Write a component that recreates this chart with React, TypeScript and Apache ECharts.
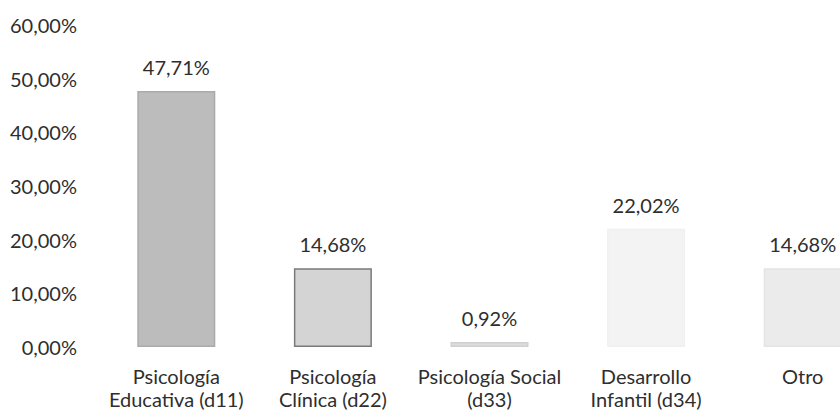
import React, { useEffect, useRef } from "react";
import * as echarts from "echarts";

const categories = [
  "Psicología\nEducativa (d11)",
  "Psicología\nClínica (d22)",
  "Psicología Social\n(d33)",
  "Desarrollo\nInfantil (d34)",
  "Otro",
];
const values = [47.71, 14.68, 0.92, 22.02, 14.68];
const barColors = ["#bcbcbc", "#d4d4d4", "#dcdcdc", "#f3f3f3", "#ebebeb"];
const barBorders = ["#aaaaaa", "#7a7a7a", "#d0d0d0", "#f0f0f0", "#e4e4e4"];

const fmt = (v: number) => v.toFixed(2).replace(".", ",") + "%";

export default function App() {
  const ref = useRef<HTMLDivElement>(null);
  useEffect(() => {
    document.body.style.margin = "0";
    document.body.style.overflow = "hidden";
    document.documentElement.style.overflow = "hidden";
    if (!ref.current) return;
    const chart = echarts.init(ref.current, null, { renderer: "svg" });
    chart.setOption({
      animation: false,
      backgroundColor: "#ffffff",
      grid: { left: 98, width: 783, top: 25, bottom: 68, containLabel: false },
      xAxis: {
        type: "category",
        data: categories,
        axisLine: { show: false },
        axisTick: { show: false },
        axisLabel: {
          interval: 0,
          color: "#2e2e2e",
          fontFamily: "Lato",
          fontSize: 20,
          lineHeight: 23,
          margin: 17,
        },
      },
      yAxis: {
        type: "value",
        min: 0,
        max: 60,
        interval: 10,
        splitLine: { show: false },
        axisLine: { show: false },
        axisTick: { show: false },
        axisLabel: {
          color: "#2e2e2e",
          fontFamily: "Lato",
          fontSize: 20,
          margin: 21,
          formatter: (v: number) => fmt(v),
        },
      },
      series: [
        {
          type: "bar",
          barWidth: 78,
          data: values.map((v, i) => ({
            value: v,
            itemStyle: {
              color: barColors[i],
              borderColor: barBorders[i],
              borderWidth: 1.5,
            },
          })),
          label: {
            show: true,
            position: "top",
            distance: 14,
            color: "#2e2e2e",
            fontFamily: "Lato",
            fontSize: 20,
            formatter: (p: any) => fmt(p.value),
          },
        },
      ],
    });
    return () => chart.dispose();
  }, []);
  return (
    <div style={{ width: 840, height: 415, overflow: "hidden" }}>
      <div ref={ref} style={{ width: 890, height: 415 }} />
    </div>
  );
}
